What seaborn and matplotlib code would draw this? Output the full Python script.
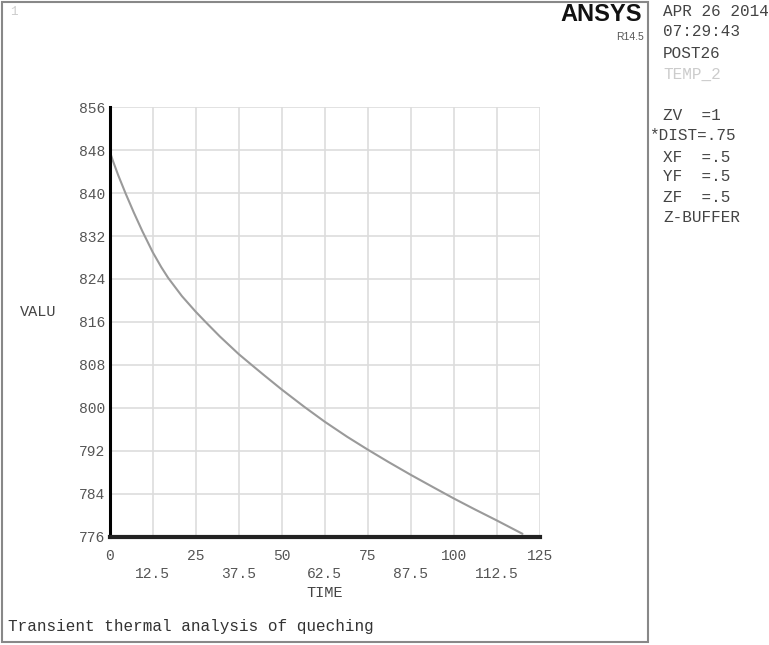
import matplotlib
matplotlib.use("Agg")
import matplotlib.pyplot as plt
from matplotlib.patches import Rectangle
import pandas as pd
import seaborn as sns

# Curve values (TEMP_2 vs TIME)
time = [0, 1, 2.5, 4.65, 7, 9.5, 12.5, 15, 17, 21, 25, 28, 32, 37.5, 41.6, 45,
        50, 56.5, 62.5, 69, 75, 81, 87.5, 94, 100, 106, 112.5, 117, 120]
value = [847.8, 845.9, 843.3, 839.9, 836.4, 832.9, 829.0, 826.2, 824.2, 820.8,
         817.9, 815.9, 813.3, 810.0, 807.8, 806.0, 803.4, 800.2, 797.4, 794.6,
         792.2, 789.9, 787.5, 785.2, 783.1, 781.1, 779.0, 777.5, 776.5]

x_major = [0, 25, 50, 75, 100, 125]
x_minor = [12.5, 37.5, 62.5, 87.5, 112.5]
y_ticks = [776, 784, 792, 800, 808, 816, 824, 832, 840, 848, 856]

info_lines = ["APR 26 2014", "07:29:43", "POST26", "TEMP_2",
              "ZV  =1", "*DIST=.75", "XF  =.5", "YF  =.5", "ZF  =.5", "Z-BUFFER"]
info_y = [12, 32, 53, 74, 115, 135.5, 157, 177, 198, 218]

df = pd.DataFrame({"TIME": time, "VALU": value})

sns.set_style("white")
plt.rcParams['font.family'] = ['Liberation Mono', 'DejaVu Sans Mono']

W, H = 769, 645
fig = plt.figure(figsize=(W / 100, H / 100), dpi=100)
ax = fig.add_axes([109.7 / W, (H - 536.5) / H, 430 / W, 429.2 / H])

sns.lineplot(data=df, x="TIME", y="VALU", ax=ax, color="#9a9a9a", lw=1.5)

ax.set_xlim(0, 125)
ax.set_ylim(776, 856)
ax.set_xticks(x_major)
ax.set_xticklabels([str(v) for v in x_major])
ax.set_xticks(x_minor, minor=True)
ax.set_xticklabels([str(v) for v in x_minor], minor=True)
ax.set_yticks(y_ticks)
ax.set_yticklabels([str(v) for v in y_ticks])

ax.set_axisbelow(True)
ax.grid(True, which="both", axis="x", color="#dddddd", lw=1.2)
ax.grid(True, which="major", axis="y", color="#dddddd", lw=1.2)

ax.tick_params(axis="x", which="major", length=0, pad=9, labelsize=10.5, labelcolor="#555555")
ax.tick_params(axis="x", which="minor", length=7, width=1.2, color="#dddddd",
               pad=15, labelsize=10.5, labelcolor="#555555")
ax.tick_params(axis="y", length=0, pad=3, labelsize=10.5, labelcolor="#555555")

for side in ["top", "right"]:
    ax.spines[side].set_visible(False)
ax.spines["left"].set_color("black")
ax.spines["left"].set_linewidth(2.2)
ax.spines["bottom"].set_color("#222222")
ax.spines["bottom"].set_linewidth(3)

ax.set_xlabel("TIME", fontsize=11, color="#444444")
ax.xaxis.set_label_coords(0.5, -0.131)
ax.xaxis.label.set_va("center")
ax.set_ylabel("VALU", rotation=0, fontsize=11, color="#444444", ha="left", va="center")
ax.yaxis.set_label_coords((20 - 109.7) / 430, 0.523)

# frame around the plot window
fig.patches.append(Rectangle((2 / W, 3 / H), 646 / W, 640 / H, transform=fig.transFigure,
                             fill=False, edgecolor="#888888", lw=1.5))

fig.text(10 / W, 1 - 12 / H, "1", fontsize=9, color="#cccccc", va="center")
fig.text(642 / W, 1 - 14.5 / H, "ANSYS", fontsize=17, fontweight="bold",
         family="Liberation Sans", color="#111111", ha="right", va="center")
fig.text(644 / W, 1 - 37.5 / H, "R14.5", fontsize=7.5, family="Liberation Sans",
         color="#555555", ha="right", va="center")

for line, yy in zip(info_lines, info_y):
    x0 = 649 if line.startswith("*") else 663
    col = "#cccccc" if line == "TEMP_2" else "#444444"
    fig.text(x0 / W, 1 - yy / H, line, fontsize=11.5, color=col, va="center")

fig.text(8 / W, 1 - 626.7 / H, "Transient thermal analysis of queching",
         fontsize=11.5, color="#333333", va="center")

fig.savefig("out.png", dpi=100)
